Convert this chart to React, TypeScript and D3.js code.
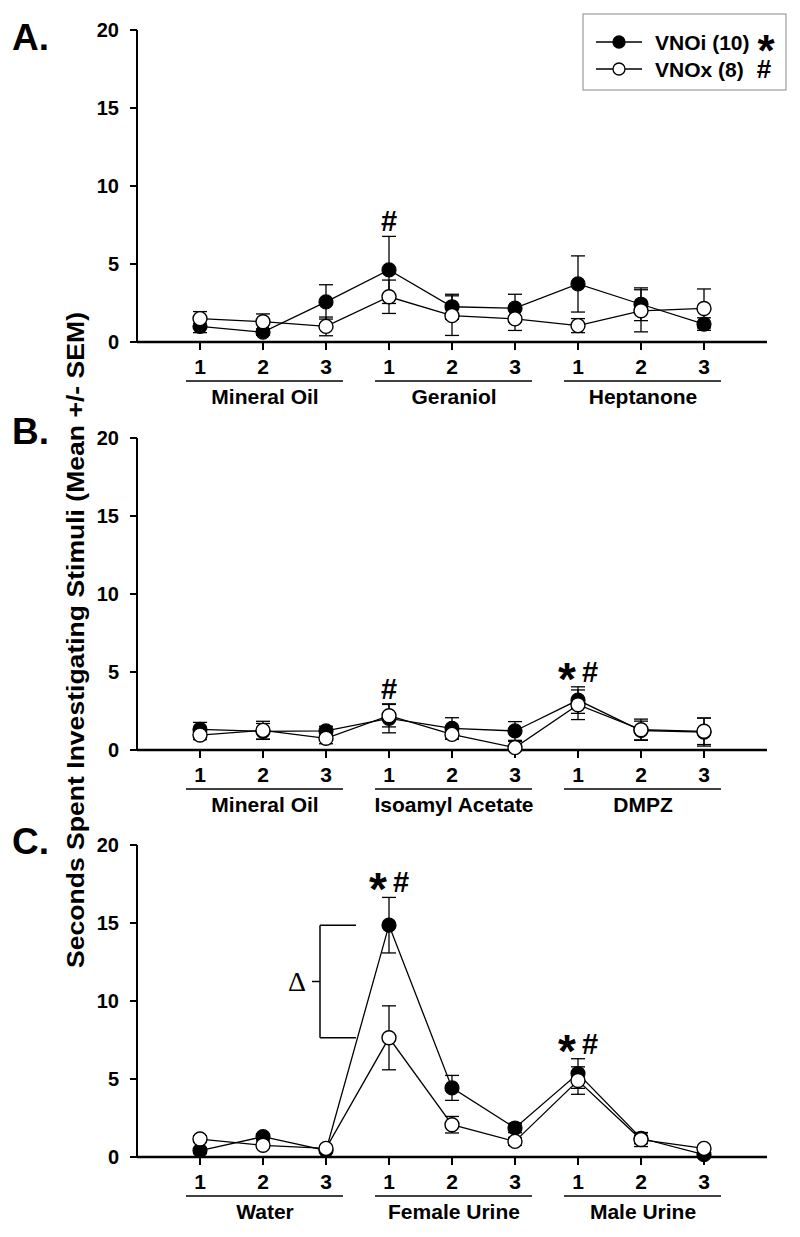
import React from "react";
import * as d3 from "d3";

// ---------- data ----------
const trialLabels = ["1", "2", "3", "1", "2", "3", "1", "2", "3"];
const groupsA = ["Mineral Oil", "Geraniol", "Heptanone"];
const groupsB = ["Mineral Oil", "Isoamyl Acetate", "DMPZ"];
const groupsC = ["Water", "Female Urine", "Male Urine"];
const yTicks = [0, 5, 10, 15, 20];

const vnoiA = [1.0, 0.63, 2.57, 4.62, 2.26, 2.17, 3.72, 2.42, 1.15];
const vnoiSemA = [0.4, 0.2, 1.1, 2.15, 0.8, 0.89, 1.8, 1.05, 0.4];
const vnoxA = [1.5, 1.3, 1.0, 2.9, 1.69, 1.48, 1.05, 2.0, 2.15];
const vnoxSemA = [0.45, 0.5, 0.6, 1.07, 1.27, 0.74, 0.45, 1.35, 1.25];

const vnoiB = [1.32, 1.2, 1.22, 2.03, 1.39, 1.22, 3.2, 1.25, 1.15];
const vnoiSemB = [0.45, 0.5, 0.3, 0.93, 0.68, 0.6, 0.85, 0.6, 0.9];
const vnoxB = [0.96, 1.26, 0.75, 2.2, 1.0, 0.15, 2.9, 1.3, 1.2];
const vnoxSemB = [0.3, 0.58, 0.35, 0.72, 0.32, 0.4, 0.95, 0.68, 0.85];

const vnoiC = [0.41, 1.3, 0.42, 14.86, 4.43, 1.86, 5.35, 1.2, 0.15];
const vnoiSemC = [0.2, 0.2, 0.15, 1.78, 0.8, 0.3, 0.95, 0.35, 0.1];
const vnoxC = [1.15, 0.75, 0.55, 7.64, 2.07, 1.0, 4.9, 1.12, 0.55];
const vnoxSemC = [0.2, 0.2, 0.15, 2.05, 0.53, 0.25, 0.88, 0.45, 0.1];

// annotations: [index, marks]
const annotA: [number, string][] = [[3, "#"]];
const annotB: [number, string][] = [[3, "#"], [6, "*#"]];
const annotC: [number, string][] = [[3, "*#"], [6, "*#"]];

const legendLabels = ["VNOi (10)", "VNOx (8)"];
const legendMarks = ["*", "#"];

// ---------- layout ----------
const W = 800;
const H = 1237;
const FONT = "'Liberation Sans', Arial, sans-serif";
const xLeft = 137;
const xRight = 767;
const LBL = 21;

const panels = [
  { letter: "A.", letterY: 50, y0: 342, groups: groupsA, vnoi: vnoiA, vnoiSem: vnoiSemA, vnox: vnoxA, vnoxSem: vnoxSemA, annot: annotA },
  { letter: "B.", letterY: 444, y0: 750, groups: groupsB, vnoi: vnoiB, vnoiSem: vnoiSemB, vnox: vnoxB, vnoxSem: vnoxSemB, annot: annotB },
  { letter: "C.", letterY: 854, y0: 1157, groups: groupsC, vnoi: vnoiC, vnoiSem: vnoiSemC, vnox: vnoxC, vnoxSem: vnoxSemC, annot: annotC },
];

const x = d3.scaleLinear().domain([0, 10]).range([xLeft, xRight]);

function Star({ cx, base, size }: { cx: number; base: number; size: number }) {
  return (
    <text x={cx} y={base} textAnchor="middle" fontFamily={FONT} fontWeight="bold" fontSize={size}>
      *
    </text>
  );
}

function Panel({ p }: { p: (typeof panels)[number] }) {
  const y = d3.scaleLinear().domain([0, 20]).range([p.y0, p.y0 - 312]);
  const idx = d3.range(9);
  const line = d3
    .line<number>()
    .x((_, i) => x(i + 1))
    .y((v) => y(v));
  const cap = 7;
  const errBars = (vals: number[], sems: number[], key: string) =>
    vals.map((v, i) => {
      const cx = x(i + 1);
      const yt = y(v + sems[i]);
      const yb = y(Math.max(0, v - sems[i]));
      return (
        <g key={key + i} stroke="#000" strokeWidth={1.3}>
          <line x1={cx} x2={cx} y1={yt} y2={yb} />
          <line x1={cx - cap} x2={cx + cap} y1={yt} y2={yt} />
          <line x1={cx - cap} x2={cx + cap} y1={yb} y2={yb} />
        </g>
      );
    });
  return (
    <g>
      <text x={12} y={p.letterY} fontFamily={FONT} fontWeight="bold" fontSize={37}>
        {p.letter}
      </text>
      {/* y axis */}
      <line x1={xLeft} x2={xLeft} y1={y(20)} y2={y(0)} stroke="#000" strokeWidth={2} />
      {yTicks.map((t) => (
        <g key={t}>
          <line x1={xLeft - 7} x2={xLeft} y1={y(t)} y2={y(t)} stroke="#000" strokeWidth={2} />
          <text x={xLeft - 18} y={y(t) + 7} textAnchor="end" fontFamily={FONT} fontWeight="bold" fontSize={20}>
            {t}
          </text>
        </g>
      ))}
      {/* x axis */}
      <line x1={xLeft} x2={xRight} y1={y(0)} y2={y(0)} stroke="#000" strokeWidth={2.5} />
      {idx.map((i) => (
        <g key={i}>
          <line x1={x(i + 1)} x2={x(i + 1)} y1={y(0)} y2={y(0) + 8} stroke="#000" strokeWidth={2} />
          <text x={x(i + 1)} y={y(0) + 32} textAnchor="middle" fontFamily={FONT} fontWeight="bold" fontSize={LBL}>
            {trialLabels[i]}
          </text>
        </g>
      ))}
      {p.groups.map((g, gi) => (
        <g key={g}>
          <line x1={x(gi * 3 + 1) - 14} x2={x(gi * 3 + 3) + 17} y1={y(0) + 39} y2={y(0) + 39} stroke="#000" strokeWidth={1.5} />
          <text x={x(gi * 3 + 2) + 2} y={y(0) + 62} textAnchor="middle" fontFamily={FONT} fontWeight="bold" fontSize={LBL}>
            {g}
          </text>
        </g>
      ))}
      {/* lines */}
      <path d={line(p.vnoi) || ""} fill="none" stroke="#000" strokeWidth={1.3} />
      <path d={line(p.vnox) || ""} fill="none" stroke="#000" strokeWidth={1.3} />
      {errBars(p.vnoi, p.vnoiSem, "ei")}
      {errBars(p.vnox, p.vnoxSem, "ex")}
      {p.vnoi.map((v, i) => (
        <circle key={"fi" + i} cx={x(i + 1)} cy={y(v)} r={7} fill="#000" stroke="#000" strokeWidth={1.2} />
      ))}
      {p.vnox.map((v, i) => (
        <circle key={"fx" + i} cx={x(i + 1)} cy={y(v)} r={7} fill="#fff" stroke="#000" strokeWidth={1.4} />
      ))}
      {/* annotations */}
      {p.annot.map(([i, s]) => {
        const top = Math.min(y(p.vnoi[i] + p.vnoiSem[i]), y(p.vnox[i] + p.vnoxSem[i]));
        const base = top - 5;
        const cx = x(i + 1);
        if (s === "#") {
          return (
            <text key={"a" + i} x={cx} y={base} textAnchor="middle" fontFamily={FONT} fontWeight="bold" fontSize={29}>
              #
            </text>
          );
        }
        return (
          <g key={"a" + i}>
            <Star cx={cx - 11} base={base + 13} size={46} />
            <text x={cx + 12} y={base} textAnchor="middle" fontFamily={FONT} fontWeight="bold" fontSize={29}>
              #
            </text>
          </g>
        );
      })}
    </g>
  );
}

export default function App() {
  const pc = panels[2];
  const yC = d3.scaleLinear().domain([0, 20]).range([pc.y0, pc.y0 - 312]);
  const bTop = yC(pc.vnoi[3]);
  const bBot = yC(pc.vnox[3]);
  const bx = 320;
  const bMid = (bTop + bBot) / 2;
  return (
    <svg width={W} height={H} style={{ display: "block", position: "absolute", left: 0, top: 0, background: "#fff" }}>
      <rect width={W} height={H} fill="#fff" />
      {panels.map((p) => (
        <Panel key={p.letter} p={p} />
      ))}
      {/* delta bracket */}
      <g stroke="#000" strokeWidth={1.5} fill="none">
        <line x1={bx} x2={bx} y1={bTop} y2={bBot} />
        <line x1={bx} x2={bx + 36} y1={bTop} y2={bTop} />
        <line x1={bx} x2={bx + 36} y1={bBot} y2={bBot} />
        <line x1={bx - 8} x2={bx} y1={bMid} y2={bMid} />
      </g>
      <text x={297} y={bMid + 9} textAnchor="middle" fontFamily="'Liberation Serif', 'Times New Roman', serif" fontSize={28}>
        Δ
      </text>
      {/* y label */}
      <text
        transform={`translate(84, 640) rotate(-90)`}
        textAnchor="middle"
        fontFamily={FONT}
        fontWeight="bold"
        fontSize={24}
        textLength={656}
        lengthAdjust="spacingAndGlyphs"
      >
        Seconds Spent Investigating Stimuli (Mean +/- SEM)
      </text>
      {/* legend */}
      <rect x={583} y={14} width={203} height={76} fill="#fff" stroke="#888" strokeWidth={1} />
      {legendLabels.map((l, i) => {
        const ly = 42 + i * 27;
        return (
          <g key={l}>
            <line x1={596} x2={642} y1={ly} y2={ly} stroke="#000" strokeWidth={1.3} />
            <circle cx={619} cy={ly} r={6} fill={i === 0 ? "#000" : "#fff"} stroke="#000" strokeWidth={1.3} />
            <text x={655} y={ly + 7.5} fontFamily={FONT} fontWeight="bold" fontSize={LBL}>
              {l}
            </text>
            {i === 0 ? (
              <Star cx={766} base={ly + 24} size={44} />
            ) : (
              <text x={764} y={ly + 9} textAnchor="middle" fontFamily={FONT} fontWeight="bold" fontSize={26}>
                {legendMarks[i]}
              </text>
            )}
          </g>
        );
      })}
    </svg>
  );
}
